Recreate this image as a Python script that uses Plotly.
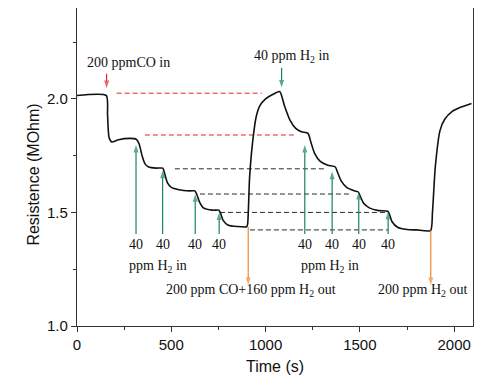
import plotly.graph_objects as go

# ---- data ----
time_s = [0, 155, 162, 170, 185, 220, 280, 315, 330, 345, 360, 380, 420, 455, 465, 480, 500, 540, 600,
          625, 635, 650, 670, 720, 752, 762, 775, 800, 850, 900, 905, 915, 930, 950, 970, 1000, 1040,
          1075, 1100, 1130, 1160, 1190, 1225, 1240, 1260, 1290, 1330, 1370, 1380, 1400, 1430, 1470,
          1492, 1500, 1520, 1550, 1600, 1648, 1658, 1670, 1700, 1750, 1800, 1875, 1885, 1900, 1925,
          1950, 1990, 2040, 2092]
resistance = [2.015, 2.015, 1.93, 1.83, 1.81, 1.82, 1.826, 1.822, 1.80, 1.75, 1.715, 1.70, 1.695, 1.695,
              1.67, 1.63, 1.61, 1.60, 1.595, 1.595, 1.58, 1.545, 1.52, 1.51, 1.51, 1.495, 1.465, 1.445,
              1.438, 1.437, 1.45, 1.65, 1.80, 1.92, 1.97, 2.00, 2.02, 2.032, 1.97, 1.905, 1.87, 1.855,
              1.848, 1.81, 1.76, 1.725, 1.708, 1.70, 1.68, 1.64, 1.61, 1.595, 1.59, 1.575, 1.54, 1.52,
              1.508, 1.505, 1.49, 1.46, 1.435, 1.425, 1.423, 1.42, 1.50, 1.70, 1.86, 1.91, 1.945, 1.965,
              1.98]

# reference dashed levels: (y, t_start, t_end)
red_levels = [(2.025, 210, 980), (1.841, 360, 1164)]
black_levels = [(1.692, 519, 1314), (1.581, 652, 1456), (1.50, 758, 1649), (1.423, 917, 1650)]

# green up-arrows: (t, tip y)
h2_in_left = [(313, 1.797), (454, 1.684), (627, 1.58), (754, 1.50)]
h2_in_right = [(1208, 1.797), (1353, 1.68), (1494, 1.59), (1650, 1.504)]
arrow_base = 1.405

RED = "#e3262e"
GREEN = "#17855a"
ORANGE = "#f0882c"
DASH_BLACK = "#2a2a2a"

fig = go.Figure()

for y, t0, t1 in red_levels:
    fig.add_trace(go.Scatter(x=[t0, t1], y=[y, y], mode="lines",
                             line=dict(color=RED, width=1, dash="5px,3px"), hoverinfo="skip"))
for y, t0, t1 in black_levels:
    fig.add_trace(go.Scatter(x=[t0, t1], y=[y, y], mode="lines",
                             line=dict(color=DASH_BLACK, width=1, dash="5px,3px"), hoverinfo="skip"))

fig.add_trace(go.Scatter(x=time_s, y=resistance, mode="lines",
                         line=dict(color="#111", width=1.6, shape="spline", smoothing=0.6)))


def arrow(t, y_tip, y_tail, color):
    fig.add_trace(go.Scatter(x=[t, t], y=[y_tail, y_tip], mode="lines+markers",
                             line=dict(color=color, width=1.2),
                             marker=dict(symbol="arrow", size=[0, 8], angleref="previous",
                                         color=color, line=dict(width=0)),
                             hoverinfo="skip"))


for t, yt in h2_in_left + h2_in_right:
    arrow(t, yt, arrow_base, GREEN)

arrow(157, 2.047, 2.11, RED)
arrow(1085, 2.05, 2.137, GREEN)
arrow(908, 1.18, 1.437, ORANGE)
arrow(1876, 1.18, 1.42, ORANGE)

serif = dict(family="Liberation Serif, Times New Roman, serif", size=14, color="#111")
ann = []
for t, yt in h2_in_left + h2_in_right:
    ann.append(dict(x=t, y=1.357, xref="x", yref="y", text="40", showarrow=False, font=serif))

texts = [(275, 2.16, "200 ppmCO in"),
         (1137, 2.185, "40 ppm H<sub>2</sub> in"),
         (429, 1.262, "ppm H<sub>2</sub> in"),
         (1341, 1.262, "ppm H<sub>2</sub> in"),
         (922, 1.155, "200 ppm CO+160 ppm H<sub>2</sub> out"),
         (1831, 1.155, "200 ppm H<sub>2</sub> out")]
for t, y, s in texts:
    ann.append(dict(x=t, y=y, xref="x", yref="y", text=s, showarrow=False, font=serif))

sans = "Liberation Sans, Arial, sans-serif"
# y-axis title placed as rotated text
ann.append(dict(x=-0.136, y=0.475, xref="paper", yref="paper", text="Resistence (MOhm)",
                textangle=-90, showarrow=False, font=dict(family=sans, size=16, color="#111")))

axis_common = dict(showline=True, linecolor="#333", linewidth=1.2, mirror=True,
                   ticks="outside", ticklen=5, tickwidth=1, tickcolor="#333",
                   showgrid=False, zeroline=False,
                   tickfont=dict(family=sans, size=15, color="#111"),
                   title_font=dict(family=sans, size=16, color="#111"))

fig.update_layout(
    width=500, height=385, showlegend=False,
    margin=dict(l=69, r=35, t=0, b=67),
    plot_bgcolor="white", paper_bgcolor="white",
    annotations=ann,
    xaxis=dict(range=[0, 2100], tickvals=[0, 500, 1000, 1500, 2000], title=dict(text="Time (s)", standoff=8),
               minor=dict(tickvals=[250, 750, 1250, 1750], ticks="outside", ticklen=3, tickcolor="#333"),
               **axis_common),
    yaxis=dict(range=[1.0, 2.4], tickvals=[1.0, 1.5, 2.0], tickformat=".1f",
               minor=dict(tickvals=[1.25, 1.75, 2.25], ticks="outside", ticklen=3, tickcolor="#333"),
               **axis_common),
)

fig.write_html("out.html")
